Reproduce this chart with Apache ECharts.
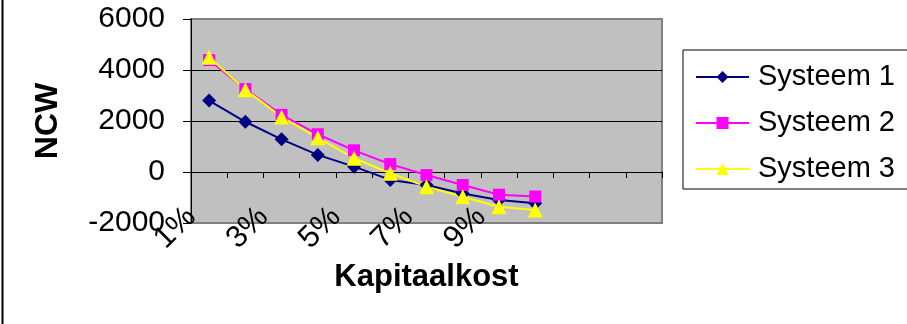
<!DOCTYPE html>
<html>
<head>
<meta charset="utf-8">
<style>
  html, body { margin: 0; padding: 0; background: #fff; }
  #chart { width: 907px; height: 324px; }
</style>
<script src="https://cdn.jsdelivr.net/npm/echarts@6/dist/echarts.min.js"></script>
</head>
<body>
<div id="chart"></div>
<script>
// Kapitaalkost categories (the last three slots are empty on the axis)
const categories = ['1%', '2%', '3%', '4%', '5%', '6%', '7%', '8%', '9%', '10%', '', '', ''];

// NCW per systeem
const systeem1 = [2800, 1970, 1280, 670, 210, -310, -510, -840, -1100, -1230];
const systeem2 = [4390, 3250, 2240, 1480, 850, 310, -120, -510, -890, -960];
const systeem3 = [4500, 3230, 2160, 1340, 540, -50, -575, -970, -1360, -1490];

const yTicks = { min: -2000, max: 6000, step: 2000 };

const FONT = "'Liberation Sans', Arial, sans-serif";

const chart = echarts.init(document.getElementById('chart'), null, { renderer: 'canvas' });

chart.setOption({
  animation: false,
  backgroundColor: '#ffffff',
  textStyle: { fontFamily: FONT, color: '#000' },
  grid: {
    left: 191, top: 19, right: 245, bottom: 101,
    show: true,
    backgroundColor: '#C0C0C0',
    borderColor: '#808080',
    borderWidth: 2
  },
  legend: {
    orient: 'vertical',
    left: 683,
    top: 50,
    padding: [10, 40, 3, 12],
    itemGap: 12,
    itemWidth: 53,
    itemHeight: 15,
    borderColor: '#000',
    borderWidth: 1,
    backgroundColor: '#fff',
    textStyle: { fontFamily: FONT, fontSize: 29, color: '#000', lineHeight: 34, padding: [0, 0, 0, 4] },
    data: ['Systeem 1', 'Systeem 2', 'Systeem 3']
  },
  xAxis: [
    {
      type: 'category',
      data: categories,
      position: 'bottom',
      boundaryGap: true,
      name: 'Kapitaalkost',
      nameLocation: 'middle',
      nameGap: 31,
      nameTextStyle: { fontFamily: FONT, fontSize: 31, fontWeight: 'bold', color: '#000' },
      axisLine: { onZero: false, show: false },
      axisTick: { show: false },
      axisLabel: {
        interval: 1,
        rotate: 45,
        margin: -7,
        verticalAlign: 'bottom',
        padding: [0, 10, 0, 0],
        fontFamily: FONT,
        fontSize: 31,
        color: '#000'
      },
      splitLine: { show: false }
    },
    {
      type: 'category',
      data: categories,
      position: 'bottom',
      boundaryGap: true,
      axisLine: { onZero: true, onZeroAxisIndex: 0, lineStyle: { color: '#000', width: 1 } },
      axisTick: { show: true, interval: 0, length: 6, lineStyle: { color: '#000' } },
      axisLabel: { show: false },
      splitLine: { show: false }
    }
  ],
  yAxis: {
    type: 'value',
    min: yTicks.min,
    max: yTicks.max,
    interval: yTicks.step,
    name: 'NCW',
    nameLocation: 'middle',
    nameGap: 127,
    nameTextStyle: { fontFamily: FONT, fontSize: 32, fontWeight: 'bold', color: '#000' },
    axisLine: { show: true, lineStyle: { color: '#000', width: 1 } },
    axisTick: { show: true, length: 8, lineStyle: { color: '#000' } },
    axisLabel: {
      margin: 26,
      fontFamily: FONT,
      fontSize: 30,
      color: '#000',
      formatter: (v) => String(v)
    },
    splitLine: { show: true, showMinLine: false, showMaxLine: false, lineStyle: { color: '#000', width: 1 } }
  },
  series: [
    {
      name: 'Systeem 1',
      type: 'line',
      xAxisIndex: 0,
      data: systeem1,
      symbol: 'diamond',
      symbolSize: 14,
      lineStyle: { color: '#000080', width: 2 },
      itemStyle: { color: '#000080' }
    },
    {
      name: 'Systeem 2',
      type: 'line',
      xAxisIndex: 0,
      data: systeem2,
      symbol: 'rect',
      symbolSize: 12,
      lineStyle: { color: '#FF00FF', width: 2 },
      itemStyle: { color: '#FF00FF' }
    },
    {
      name: 'Systeem 3',
      type: 'line',
      xAxisIndex: 0,
      data: systeem3,
      symbol: 'triangle',
      symbolSize: 15,
      lineStyle: { color: '#FFFF00', width: 2 },
      itemStyle: { color: '#FFFF00' }
    }
  ],
  graphic: [
    {
      type: 'line',
      shape: { x1: 2.5, y1: 0, x2: 2.5, y2: 324 },
      style: { stroke: '#000', lineWidth: 2 },
      silent: true
    }
  ]
});
</script>
</body>
</html>
